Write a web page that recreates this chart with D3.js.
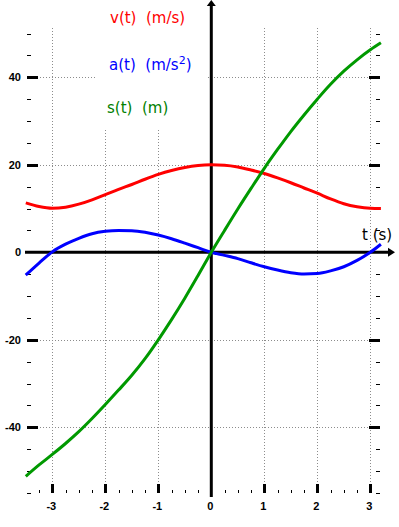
<!DOCTYPE html>
<html>
<head>
<meta charset="utf-8">
<script src="https://cdn.jsdelivr.net/npm/d3@7"></script>
<style>
  body { margin: 0; background: #fff; }
  svg { display: block; }
</style>
</head>
<body>
<svg id="chart" width="399" height="527"></svg>
<script>
"use strict";

// values, t in seconds
var times = [-3.5, -3.25, -3, -2.75, -2.5, -2.25, -2, -1.75, -1.5, -1.25, -1, -0.75, -0.5, -0.25,
             0, 0.25, 0.5, 0.75, 1, 1.25, 1.5, 1.75, 2, 2.25, 2.5, 2.75, 3, 3.2];
var velocity = [11.3, 10.45, 10.05, 10.3, 11.0, 12.0, 13.2, 14.4, 15.5, 16.7, 17.8, 18.7, 19.4, 19.85,
                20, 19.9, 19.5, 18.8, 18.0, 17.0, 15.9, 14.7, 13.5, 12.2, 11.1, 10.4, 10.05, 10.0];
var acceleration = [-5.2, -2.45, 0.1, 1.85, 3.2, 4.25, 4.8, 5.0, 4.95, 4.6, 3.95, 3.1, 2.1, 1.05,
                    0, -0.7, -1.45, -2.4, -3.3, -4.05, -4.65, -4.95, -4.85, -4.25, -3.3, -1.85, 0, 1.85];
var displacement = [-51.2, -48.6, -46.2, -43.7, -41.0, -38.0, -34.8, -31.5, -28.1, -24.3, -20.0, -15.4, -10.5, -5.3,
                    0, 5.0, 9.9, 14.6, 19.2, 23.5, 27.6, 31.4, 35.0, 38.4, 41.4, 44.0, 46.3, 47.9];

var xTickLabels = [-3, -2, -1, 0, 1, 2, 3];
var yTickLabels = [-40, -20, 0, 20, 40];
var seriesNames = ["v(t)  (m/s)", "a(t)  (m/s", "s(t)  (m)"];
var seriesColors = ["#ff0000", "#0000ff", "#009900"];
var axisName = "t (s)";

var svg = d3.select("#chart");
var x = d3.scaleLinear().domain([-3, 3]).range([52.3, 370.3]);
var y = d3.scaleLinear().domain([-40, 40]).range([427.3, 77.3]);

// grid
var grid = svg.append("g")
  .attr("stroke", "#8c8c8c")
  .attr("stroke-width", 1)
  .attr("stroke-dasharray", "1,2")
  .attr("shape-rendering", "crispEdges");
grid.selectAll(".vgrid")
  .data(xTickLabels.filter(function (d) { return d != 0; }))
  .enter().append("line")
  .attr("x1", function (d) { return Math.round(x(d)) + 0.5; })
  .attr("x2", function (d) { return Math.round(x(d)) + 0.5; })
  .attr("y1", 28).attr("y2", 484);
grid.selectAll(".hgrid")
  .data(yTickLabels.filter(function (d) { return d != 0; }))
  .enter().append("line")
  .attr("y1", function (d) { return Math.round(y(d)) + 0.5; })
  .attr("y2", function (d) { return Math.round(y(d)) + 0.5; })
  .attr("x1", 37).attr("x2", 369);

// white box behind legend texts
svg.append("rect")
  .attr("x", 96).attr("y", 0)
  .attr("width", 110).attr("height", 128)
  .attr("fill", "#fff");

// y ticks on both sides
var yMinor = d3.range(-55, 51, 5);
var ticks = svg.append("g").attr("fill", "#000").attr("shape-rendering", "crispEdges");
yMinor.forEach(function (v) {
  var major = v % 20 == 0;
  if (v == 0) return;
  var yy = Math.round(y(v));
  ticks.append("rect")
    .attr("x", 27).attr("y", major ? yy - 1 : yy)
    .attr("width", major ? 11 : 4).attr("height", major ? 3 : 1);
  ticks.append("rect")
    .attr("x", major ? 369 : 376).attr("y", major ? yy - 1 : yy)
    .attr("width", major ? 11 : 4).attr("height", major ? 3 : 1);
});

// x ticks at the bottom
d3.range(-13, 13).forEach(function (q) {
  var t = q / 4;
  if (t == 0) return;
  var major = q % 4 == 0;
  var xx = Math.round(x(t));
  ticks.append("rect")
    .attr("x", major ? xx - 1 : xx).attr("y", major ? 484 : 490)
    .attr("width", major ? 3 : 1).attr("height", major ? 9 : 3);
});

// tick labels
svg.selectAll(".ylab")
  .data(yTickLabels)
  .enter().append("text")
  .attr("x", 21)
  .attr("y", function (d) { return y(d) + 4; })
  .attr("text-anchor", "end")
  .attr("font-family", "Liberation Sans, Arial, sans-serif")
  .attr("font-weight", "bold")
  .attr("font-size", 11)
  .text(function (d) { return d; });

svg.selectAll(".xlab")
  .data(xTickLabels)
  .enter().append("text")
  .attr("x", function (d) { return x(d) - 1; })
  .attr("y", 510)
  .attr("text-anchor", "middle")
  .attr("font-family", "Liberation Sans, Arial, sans-serif")
  .attr("font-weight", "bold")
  .attr("font-size", 11)
  .text(function (d) { return d; });

// axes with arrows
var x0 = x(0), y0 = y(0);
svg.append("line")
  .attr("x1", 25).attr("x2", 389)
  .attr("y1", y0).attr("y2", y0)
  .attr("stroke", "#000").attr("stroke-width", 3);
svg.append("path")
  .attr("d", "M388," + (y0 - 4.5) + "L395," + y0 + "L388," + (y0 + 4.5) + "Z")
  .attr("fill", "#000");
svg.append("line")
  .attr("x1", x0).attr("x2", x0)
  .attr("y1", 497).attr("y2", 5)
  .attr("stroke", "#000").attr("stroke-width", 3);
svg.append("path")
  .attr("d", "M" + (x0 - 4.5) + ",6L" + x0 + ",0L" + (x0 + 4.5) + ",6Z")
  .attr("fill", "#000");

svg.append("text")
  .attr("x", 362).attr("y", 240)
  .attr("font-family", "DejaVu Sans, Verdana, sans-serif")
  .attr("font-size", 15)
  .attr("fill", "#000")
  .text(axisName);

// curves
var series = [velocity, acceleration, displacement];
var line = d3.line()
  .x(function (d, i) { return x(times[i]); })
  .y(function (d) { return y(d); })
  .curve(d3.curveMonotoneX);

svg.selectAll(".curve")
  .data(series)
  .enter().append("path")
  .attr("d", function (d) { return line(d); })
  .attr("fill", "none")
  .attr("stroke", function (d, i) { return seriesColors[i]; })
  .attr("stroke-width", 3);

// legend texts
var legendPos = [[110, 23], [109, 70], [107, 113]];
var legend = svg.selectAll(".legend")
  .data(seriesNames)
  .enter().append("text")
  .attr("x", function (d, i) { return legendPos[i][0]; })
  .attr("y", function (d, i) { return legendPos[i][1]; })
  .attr("font-family", "DejaVu Sans, Verdana, sans-serif")
  .attr("font-size", 15)
  .attr("fill", function (d, i) { return i == 2 ? "#008000" : seriesColors[i]; })
  .attr("xml:space", "preserve")
  .style("white-space", "pre")
  .text(function (d) { return d; });

var aLabel = legend.filter(function (d, i) { return i == 1; });
aLabel.append("tspan").attr("dy", -6).attr("font-size", 11).text("2");
aLabel.append("tspan").attr("dy", 6).text(")");
</script>
</body>
</html>
